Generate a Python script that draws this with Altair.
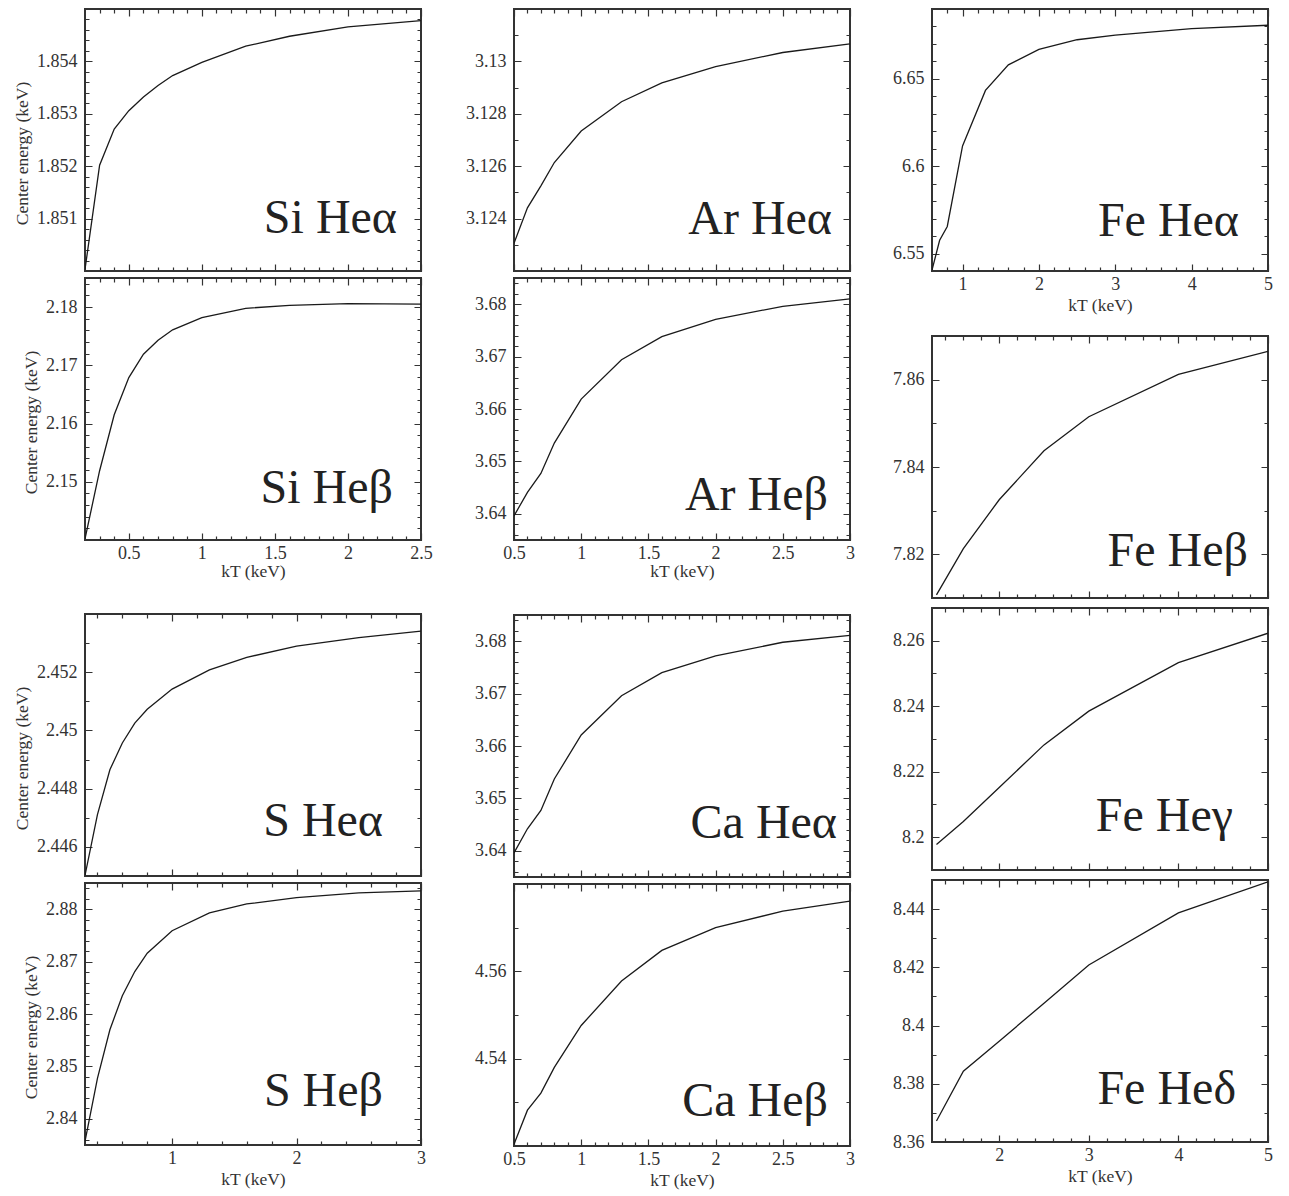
import json
import math
import altair as alt
import pandas as pd

FONT = "Liberation Serif"
W, H = 336, 262
MAJ, MIN = 7, 4
INK = "#333333"
LINE = "#1a1a1a"

# ---------------- data ----------------
kT_si = [0.2, 0.3, 0.4, 0.5, 0.6, 0.7, 0.8, 1.0, 1.3, 1.6, 2.0, 2.5]
E_si_alpha = [1.85003, 1.85202, 1.85271, 1.85306, 1.85332, 1.85354, 1.85373, 1.85398,
              1.85429, 1.85448, 1.85466, 1.85478]
E_si_beta = [2.1402, 2.1519, 2.1615, 2.1679, 2.1719, 2.1743, 2.1761, 2.1782,
             2.1798, 2.1803, 2.1806, 2.1805]

kT_ar = [0.5, 0.6, 0.7, 0.8, 1.0, 1.3, 1.6, 2.0, 2.5, 3.0]
E_ar_alpha = [3.12306, 3.12441, 3.12525, 3.12614, 3.12734, 3.12846, 3.12918, 3.1298, 3.13034, 3.13067]
E_ar_beta = [3.6396, 3.6441, 3.6477, 3.6535, 3.6619, 3.6694, 3.6738, 3.6771, 3.6796, 3.681]
E_ca_alpha = [3.6396, 3.6442, 3.6477, 3.6537, 3.6621, 3.6696, 3.674, 3.6772, 3.6798, 3.6811]
E_ca_beta = [4.5204, 4.5282, 4.5321, 4.538, 4.5476, 4.5578, 4.5648, 4.57, 4.5738, 4.5761]

kT_s = [0.3, 0.4, 0.5, 0.6, 0.7, 0.8, 1.0, 1.3, 1.6, 2.0, 2.5, 3.0]
E_s_alpha = [2.44502, 2.44711, 2.44865, 2.44957, 2.45025, 2.45073, 2.45142, 2.45208,
             2.45251, 2.4529, 2.45319, 2.45341]
E_s_beta = [2.8357, 2.8477, 2.857, 2.8635, 2.8681, 2.8716, 2.8759, 2.8793,
            2.881, 2.8822, 2.8831, 2.8835]

kT_fe_alpha = [0.6, 0.7, 0.8, 1.0, 1.3, 1.6, 2.0, 2.5, 3.0, 4.0, 5.0]
E_fe_alpha = [6.5405, 6.5576, 6.5655, 6.6116, 6.6434, 6.658, 6.6669, 6.6724, 6.675, 6.6788, 6.6807]

kT_fe = [1.3, 1.6, 2.0, 2.5, 3.0, 4.0, 5.0]
E_fe_beta = [7.8107, 7.8213, 7.8325, 7.8437, 7.8515, 7.8612, 7.8665]
E_fe_gamma = [8.1978, 8.2048, 8.2152, 8.2282, 8.2385, 8.2533, 8.2623]
E_fe_delta = [8.3672, 8.3843, 8.3946, 8.4077, 8.4208, 8.4387, 8.4494]

# tick labels
X_SI_MAJOR = [0.5, 1, 1.5, 2, 2.5]
X_AR_MAJOR = [0.5, 1, 1.5, 2, 2.5, 3]
X_S_MAJOR = [1, 2, 3]
X_FEA_MAJOR = [1, 2, 3, 4, 5]
X_FE_MAJOR = [2, 3, 4, 5]

Y_SI_A = [1.851, 1.852, 1.853, 1.854]
Y_SI_B = [2.15, 2.16, 2.17, 2.18]
Y_AR_A = [3.124, 3.126, 3.128, 3.13]
Y_AR_B = [3.64, 3.65, 3.66, 3.67, 3.68]
Y_CA_A = [3.64, 3.65, 3.66, 3.67, 3.68]
Y_CA_B = [4.54, 4.56]
Y_S_A = [2.446, 2.448, 2.45, 2.452]
Y_S_B = [2.84, 2.85, 2.86, 2.87, 2.88]
Y_FE_A = [6.55, 6.6, 6.65]
Y_FE_B = [7.82, 7.84, 7.86]
Y_FE_G = [8.2, 8.22, 8.24, 8.26]
Y_FE_D = [8.36, 8.38, 8.4, 8.42, 8.44]

Y_TITLE = "Center energy (keV)"
X_TITLE = "kT (keV)"


def minor_ticks(dom, step, major):
    lo, hi = dom
    out = []
    for k in range(math.ceil(lo / step - 1e-9), math.floor(hi / step + 1e-9) + 1):
        v = round(k * step, 6)
        if v <= lo + step * 1e-3 or v >= hi - step * 1e-3:
            continue
        if any(abs(v - m) < step * 1e-3 for m in major):
            continue
        out.append(v)
    return out


def make_axis(major, dom, step, length, show_labels, title, label_pad, title_pad, **extra):
    test = "indexof(%s, datum.value) >= 0" % json.dumps(major)
    vals = list(major) + minor_ticks(dom, step, major)
    kw = dict(
        values=vals,
        grid=True,
        gridDash={"condition": {"test": test, "value": [MAJ, length - 2 * MAJ]},
                  "value": [MIN, length - 2 * MIN]},
        gridColor=INK, gridWidth=1.2, gridOpacity=1,
        domain=False, ticks=False, tickSize=0,
        labels=show_labels,
        labelExpr="%s ? format(datum.value, '~g') : ''" % test,
        labelOverlap=False, labelFlush=False,
        labelPadding=label_pad,
        title=title, titlePadding=title_pad,
    )
    kw.update(extra)
    return alt.Axis(**kw)


def panel(label, kT, E, xdom, xmaj, xstep, ydom, ymaj, ystep, xlab, ytitle, dx, dy, xtpad=3):
    df = pd.DataFrame({"kT": kT, "E": E})
    xaxis = make_axis(xmaj, xdom, xstep, H, xlab, X_TITLE if xlab else None, 4, xtpad)
    yextra = {"titleY": H / 2 + 13} if ytitle else {}
    yaxis = make_axis(ymaj, ydom, ystep, W, True, Y_TITLE if ytitle else None, 8, 5, **yextra)
    line = alt.Chart(df).mark_line(color=LINE, strokeWidth=1.3, clip=True).encode(
        x=alt.X("kT:Q", scale=alt.Scale(domain=xdom, nice=False, zero=False), axis=xaxis),
        y=alt.Y("E:Q", scale=alt.Scale(domain=ydom, nice=False, zero=False), axis=yaxis),
    )
    txt = alt.Chart(pd.DataFrame({"name": [label]})).mark_text(
        font=FONT, fontSize=48, align="right", baseline="alphabetic", color="#222222"
    ).encode(x=alt.value(W - dx), y=alt.value(H - dy), text="name:N")
    return alt.layer(line, txt).properties(width=W, height=H)


def spacer(h):
    return alt.Chart(pd.DataFrame({"v": [0]})).mark_point(opacity=0).encode(
        x=alt.value(0), y=alt.value(0)
    ).properties(width=W, height=h, view=alt.ViewBackground(stroke="transparent"))


SI_X = dict(xdom=[0.2, 2.5], xmaj=X_SI_MAJOR, xstep=0.1)
AR_X = dict(xdom=[0.5, 3.0], xmaj=X_AR_MAJOR, xstep=0.1)
S_X = dict(xdom=[0.3, 3.0], xmaj=X_S_MAJOR, xstep=0.2)
FEA_X = dict(xdom=[0.6, 5.0], xmaj=X_FEA_MAJOR, xstep=0.2)
FE_X = dict(xdom=[1.25, 5.0], xmaj=X_FE_MAJOR, xstep=0.2)

si_a = panel("Si Heα", kT_si, E_si_alpha, ydom=[1.850, 1.855], ymaj=Y_SI_A, ystep=0.0002,
             xlab=False, ytitle=True, dx=24, dy=38, **SI_X)
si_b = panel("Si Heβ", kT_si, E_si_beta, ydom=[2.14, 2.185], ymaj=Y_SI_B, ystep=0.002,
             xlab=True, ytitle=True, dx=28, dy=37, xtpad=0, **SI_X)
s_a = panel("S Heα", kT_s, E_s_alpha, ydom=[2.445, 2.454], ymaj=Y_S_A, ystep=0.001,
            xlab=False, ytitle=True, dx=38, dy=40, **S_X)
s_b = panel("S Heβ", kT_s, E_s_beta, ydom=[2.835, 2.885], ymaj=Y_S_B, ystep=0.002,
            xlab=True, ytitle=True, dx=38, dy=39, **S_X)

ar_a = panel("Ar Heα", kT_ar, E_ar_alpha, ydom=[3.122, 3.132], ymaj=Y_AR_A, ystep=0.001,
             xlab=False, ytitle=False, dx=18, dy=37, **AR_X)
ar_b = panel("Ar Heβ", kT_ar, E_ar_beta, ydom=[3.635, 3.685], ymaj=Y_AR_B, ystep=0.002,
             xlab=True, ytitle=False, dx=22, dy=30, xtpad=0, **AR_X)
ca_a = panel("Ca Heα", kT_ar, E_ca_alpha, ydom=[3.635, 3.685], ymaj=Y_CA_A, ystep=0.002,
             xlab=False, ytitle=False, dx=13, dy=39, **AR_X)
ca_b = panel("Ca Heβ", kT_ar, E_ca_beta, ydom=[4.52, 4.58], ymaj=Y_CA_B, ystep=0.01,
             xlab=True, ytitle=False, dx=22, dy=30, **AR_X)

fe_a = panel("Fe Heα", kT_fe_alpha, E_fe_alpha, ydom=[6.54, 6.69], ymaj=Y_FE_A, ystep=0.01,
             xlab=True, ytitle=False, dx=29, dy=35, xtpad=3, **FEA_X)
fe_b = panel("Fe Heβ", kT_fe, E_fe_beta, ydom=[7.81, 7.87], ymaj=Y_FE_B, ystep=0.01,
             xlab=False, ytitle=False, dx=20, dy=32, **FE_X)
fe_g = panel("Fe Heγ", kT_fe, E_fe_gamma, ydom=[8.19, 8.27], ymaj=Y_FE_G, ystep=0.01,
             xlab=False, ytitle=False, dx=35, dy=39, **FE_X)
fe_d = panel("Fe Heδ", kT_fe, E_fe_delta, ydom=[8.36, 8.45], ymaj=Y_FE_D, ystep=0.01,
             xlab=True, ytitle=False, dx=32, dy=38, **FE_X)

col1 = alt.vconcat(si_a, si_b, spacer(60), s_a, s_b, spacing=7, bounds="flush")
col2 = alt.vconcat(ar_a, ar_b, spacer(61), ca_a, ca_b, spacing=7, bounds="flush")
col3 = alt.vconcat(fe_a, spacer(45), fe_b, fe_g, fe_d, spacing=10, bounds="flush")

chart = alt.hconcat(
    alt.hconcat(col1, col2, spacing=30),
    col3,
    spacing=35,
).properties(
    padding={"left": 4, "top": 0, "right": 0, "bottom": 0},
    background="white",
).configure_view(
    stroke=INK, strokeWidth=2
).configure_axis(
    labelFont=FONT, labelFontSize=18, labelColor=INK,
    titleFont=FONT, titleFontSize=17.5, titleColor=INK, titleFontWeight="normal",
)

chart.save("out.html", embed_options={"renderer": "svg", "actions": False})
